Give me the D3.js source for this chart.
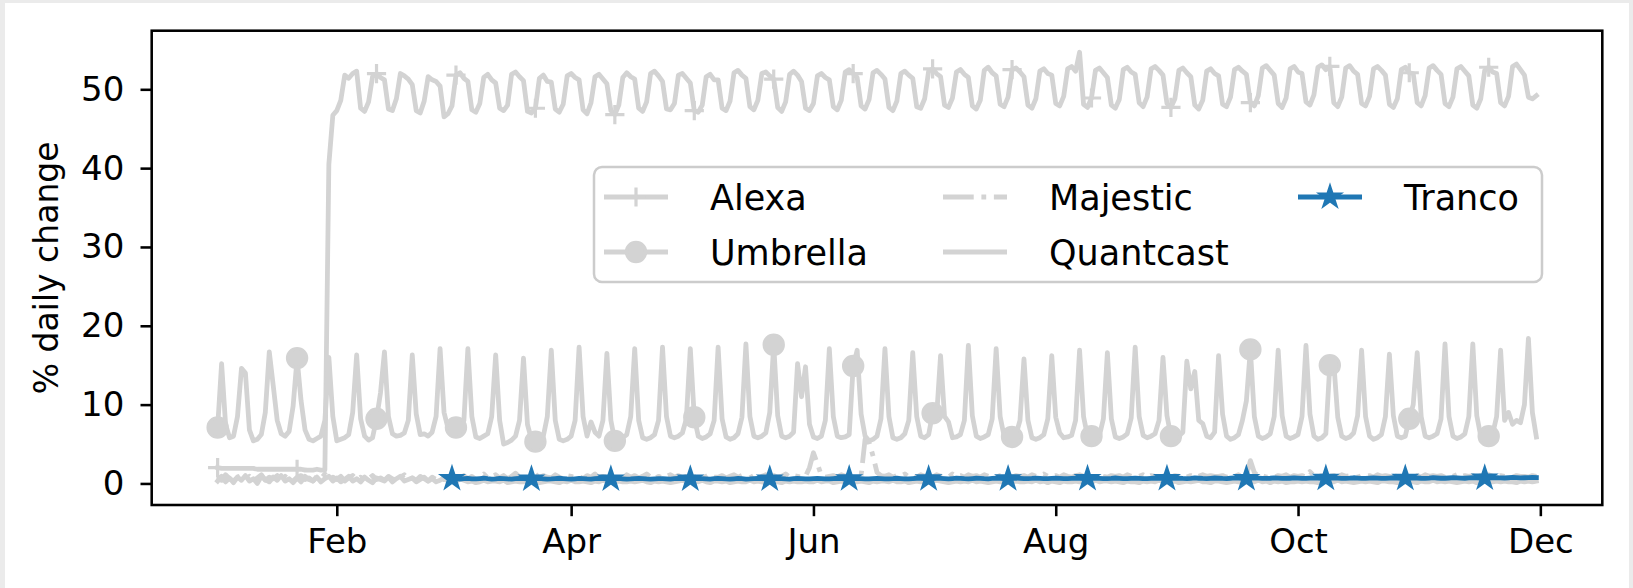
<!DOCTYPE html>
<html>
<head>
<meta charset="utf-8">
<script src="https://cdn.jsdelivr.net/npm/d3@7"></script>
<style>
  html, body { margin: 0; padding: 0; background: #ebebeb; }
  svg { display: block; font-family: "DejaVu Sans", sans-serif; }
</style>
</head>
<body>
<svg id="chart" width="1633" height="588"></svg>
<script>
// daily values, first value = 2018-01-02, last = 2018-11-30
const firstDay = "2018-01-02";
const trancoFirstDay = "2018-03-02";

const alexa = [
  2.0,1.9,1.9,1.9,1.9,1.9,1.9, 1.9,1.9,1.9,1.8,1.8,1.8,1.8, 1.8,1.8,1.8,1.8,1.8,1.8,1.8,
  1.8,1.7,1.7,1.7,1.8,1.7,1.7, 40.5,46.7,47.3,48.6,51.8,51.4,52.0, 52.3,47.6,47.2,48.4,51.6,52.0,51.5,
  51.2,47.5,47.3,48.8,52.0,51.7,51.3, 50.6,47.3,47.0,48.5,51.6,51.2,51.0, 50.4,46.5,46.9,47.9,51.8,52.1,51.4,
  51.0,47.4,47.1,48.2,51.5,51.9,51.2, 50.8,47.6,47.3,48.0,51.9,52.2,51.6, 51.1,47.2,47.0,47.6,51.4,51.8,51.0,
  50.9,47.5,47.1,48.1,51.7,52.0,51.5, 51.2,47.4,46.9,48.3,51.6,51.9,51.3, 50.7,47.3,46.8,48.0,51.5,52.1,51.6,
  51.3,47.6,47.2,48.4,52.0,52.3,51.7, 51.0,47.5,47.4,48.2,51.8,52.0,51.4, 50.8,47.3,47.1,48.0,51.6,51.9,51.2,
  51.2,47.6,47.3,48.5,52.1,52.4,51.8, 51.4,47.8,47.4,48.6,52.0,52.2,51.7, 51.3,47.7,47.2,48.4,51.9,52.3,51.8,
  51.0,47.6,47.3,48.2,51.7,52.0,51.5, 51.2,47.8,47.4,48.6,52.2,52.5,52.0, 51.5,47.9,47.5,48.7,52.1,52.4,51.9,
  51.3,47.7,47.3,48.5,52.0,52.3,51.8, 51.4,47.8,47.6,48.8,52.3,52.6,52.0, 51.6,48.0,47.7,48.9,52.2,52.5,51.9,
  51.5,47.9,47.5,48.6,52.4,52.8,52.1, 51.7,48.1,47.8,49.0,52.5,52.7,52.2, 51.6,48.0,47.6,48.8,52.3,52.6,52.0,
  51.8,48.2,47.9,49.1,52.6,52.9,52.3, 54.7,48.1,47.7,48.9,52.4,52.7,52.1, 51.5,48.0,47.6,48.7,52.5,52.8,52.2,
  51.9,48.3,47.8,49.0,52.6,52.9,52.4, 51.8,48.2,47.7,48.8,52.4,52.7,52.1, 51.6,48.0,47.5,48.6,52.3,52.6,52.0,
  51.7,48.1,47.8,49.0,52.5,52.8,52.3, 51.9,48.3,47.9,49.2,52.7,53.0,52.4, 51.8,48.2,47.7,48.9,52.6,52.9,52.2,
  52.0,48.4,48.0,49.3,52.8,53.1,52.5, 52.9,48.3,47.8,49.0,52.7,53.0,52.3, 51.9,48.2,47.9,49.1,52.6,52.9,52.4,
  51.8,48.1,47.7,48.8,52.5,52.8,52.1, 52.0,48.3,47.9,49.2,52.7,53.0,52.4, 51.9,48.2,47.8,49.0,52.6,52.9,52.3,
  51.7,48.0,47.6,48.8,52.4,52.8,52.2, 52.0,48.3,47.9,49.1,52.9,53.2,52.5, 51.8,49.0,48.8,49.2
];

const umbrella = [
  7.1,15.2,7.5,5.8,6.0,8.5,14.6, 14.0,6.8,5.4,5.6,6.2,9.0,16.7, 12.4,8.0,6.3,6.0,6.6,9.8,15.9,
  10.5,6.8,5.6,5.4,5.7,6.0,8.0, 16.0,8.5,5.4,5.6,5.8,6.2,9.0, 16.3,8.2,6.0,5.5,5.8,8.2,11.5,
  16.7,8.5,6.3,6.0,6.1,6.4,8.0, 16.3,8.8,6.2,6.3,6.0,6.5,8.5, 17.1,9.0,7.0,6.5,7.1,6.8,8.0,
  17.1,8.5,5.9,5.7,6.0,6.3,8.5, 16.3,8.0,5.0,5.2,5.5,6.0,8.0, 15.9,7.5,5.6,5.3,5.5,6.0,8.5,
  16.9,8.0,5.6,5.4,5.6,6.0,8.0, 17.3,8.5,6.0,7.8,6.5,6.0,8.0, 16.5,8.0,5.4,5.6,5.8,6.2,8.5,
  17.1,8.0,5.8,5.6,5.8,6.2,8.0, 17.3,8.5,6.0,5.8,6.0,6.4,8.2, 17.1,8.4,6.0,5.7,5.9,6.3,8.0,
  17.3,8.2,5.9,5.6,5.8,6.3,8.4, 17.7,8.5,6.0,5.8,6.0,6.4,9.0, 17.6,8.6,6.0,5.8,6.0,6.5,15.2,
  11.0,14.8,7.5,5.9,5.7,6.0,8.0, 17.1,8.5,6.0,5.8,5.9,6.2,14.9, 16.9,8.8,6.0,5.4,5.6,6.0,8.2,
  17.1,8.5,5.8,5.6,5.8,6.3,8.0, 16.6,8.5,6.0,5.8,6.2,8.9,8.4, 16.2,8.5,7.8,5.8,5.9,6.2,8.0,
  17.5,8.6,6.0,5.7,5.9,6.2,8.2, 17.1,8.5,6.0,5.6,5.9,6.2,8.0, 15.8,8.0,5.8,5.6,5.8,6.2,8.2,
  16.2,8.4,6.4,5.8,5.9,6.1,8.0, 16.9,8.5,6.0,6.0,5.8,6.1,8.2, 16.6,8.2,5.9,5.7,5.9,6.3,8.3,
  17.3,8.5,6.1,5.8,6.0,6.3,8.0, 16.0,8.6,6.0,5.7,6.0,6.5,15.5, 12.0,14.2,8.0,7.6,6.0,5.8,6.5,
  16.2,8.8,6.0,5.6,5.8,6.2,8.0, 10.5,17.0,8.5,6.0,5.7,5.9,6.3, 8.5,16.9,8.6,6.0,5.7,5.9,6.2,
  8.5,17.5,8.8,6.0,5.6,5.8,6.3, 15.0,15.3,8.4,6.0,5.7,5.9,6.4, 8.6,16.9,8.5,6.0,5.6,5.8,6.2,
  8.5,16.4,8.6,6.0,5.8,6.0,8.2, 10.0,16.6,8.5,6.0,5.8,6.0,6.3, 8.2,17.7,8.5,6.0,5.7,5.9,6.3,
  8.5,17.7,8.6,6.0,5.8,6.0,6.3, 8.5,16.9,8.0,9.0,7.5,8.0,7.7, 10.0,18.4,9.0,5.9
];

const majestic = [
  0.9,0.4,1.1,0.6,0.3,0.8,1.0, 0.5,0.9,0.3,0.7,1.1,0.4,0.8, 0.6,1.0,0.4,0.9,0.5,0.3,0.8,
  1.0,0.5,0.7,0.3,0.9,0.6,1.2, 0.4,0.8,0.5,0.9,0.3,0.7,1.0, 0.5,0.8,0.4,0.6,1.0,0.5,0.7,
  0.4,0.9,0.6,0.3,0.8,1.1,0.5, 0.7,0.4,0.9,0.6,0.3,0.8,0.5, 0.9,0.5,0.7,0.4,0.8,0.6,1.0,
  0.6,0.9,0.5,0.8,1.2,0.7,0.9, 1.1,0.7,1.0,0.6,0.9,1.3,0.8, 1.0,0.6,0.9,1.2,0.7,1.0,0.8,
  0.7,1.1,0.8,0.6,1.0,0.9,0.7, 0.9,0.6,1.0,0.8,1.2,0.7,0.9, 0.8,1.0,0.7,0.9,0.6,1.1,0.8,
  1.0,0.7,0.9,1.2,0.8,0.6,0.9, 0.7,0.9,1.1,0.8,1.0,0.7,0.9, 0.9,0.8,1.0,0.7,0.9,1.2,0.8,
  0.8,1.0,0.7,0.9,1.1,0.8,1.0, 0.9,0.7,1.0,0.8,0.9,1.1,0.8, 1.0,0.8,0.9,1.2,0.8,1.0,0.9,
  0.8,0.9,2.0,3.9,2.5,1.0,0.8, 0.9,1.0,0.8,1.1,0.9,1.0,0.8, 0.9,1.0,5.6,5.2,3.5,1.4,1.0,
  0.9,1.1,0.8,1.0,0.9,1.2,0.8, 1.0,0.8,1.1,0.9,1.0,0.8,1.1, 0.9,1.0,0.8,1.2,0.9,1.0,0.8,
  1.1,0.9,1.0,0.8,1.1,0.9,1.0, 0.8,1.0,0.9,1.1,0.8,1.0,0.9, 1.0,0.8,1.1,0.9,1.0,1.2,0.9,
  0.9,1.0,0.8,1.1,0.9,0.8,1.0, 1.1,0.9,1.0,0.8,0.9,1.1,0.9, 0.8,1.0,0.9,1.0,0.8,1.1,0.9,
  1.0,0.9,1.1,0.8,1.0,0.9,0.8, 0.9,1.1,0.8,1.0,0.9,1.0,0.8, 1.0,0.8,0.9,1.1,0.9,1.0,0.9,
  0.9,1.0,0.8,1.0,0.9,1.1,0.8, 1.0,2.9,1.4,0.9,1.0,0.8,0.9, 0.8,1.0,0.9,1.1,0.8,1.0,0.9,
  1.0,0.8,1.5,1.0,0.9,1.0,0.8, 0.9,1.0,0.8,1.1,0.9,1.0,0.9, 0.8,1.0,0.9,1.0,0.8,1.1,0.9,
  1.0,0.9,0.8,1.0,0.9,1.1,0.8, 0.9,1.0,0.8,1.1,0.9,1.0,0.9, 1.0,0.8,1.0,0.9,1.1,0.8,1.0,
  0.9,1.0,0.8,1.0,0.9,1.1,0.9, 0.8,1.0,0.9,1.1,0.8,1.0,0.9, 0.9,0.8,1.0,0.9
];

const quantcast = [
  0.3,0.9,0.2,0.7,0.1,0.8,0.4, 1.0,0.3,0.6,0.0,0.9,0.5,0.2, 0.8,0.4,1.0,0.3,0.6,0.1,0.7,
  0.2,0.9,0.5,0.3,0.8,0.2,0.6, 0.9,0.3,0.7,0.2,0.5,0.9,0.3, 0.6,0.2,0.8,0.4,0.1,0.7,0.5,
  0.3,0.8,0.2,0.6,0.9,0.3,0.5, 0.7,0.2,0.5,0.8,0.3,0.6,0.2, 0.4,0.7,0.3,0.5,0.2,0.6,0.4,
  0.2,0.3,0.1,0.2,0.4,0.2,0.3, 0.3,0.2,0.4,0.1,0.2,0.3,0.2, 0.2,0.4,0.2,0.3,0.1,0.2,0.3,
  0.3,0.2,0.1,0.3,0.2,0.4,0.2, 0.2,0.3,0.2,0.1,0.3,0.2,0.4, 0.3,0.1,0.2,0.3,0.2,0.2,0.3,
  0.2,0.3,0.4,0.2,0.1,0.3,0.2, 0.3,0.2,0.1,0.2,0.3,0.4,0.2, 0.2,0.3,0.2,0.4,0.2,0.1,0.3,
  0.3,0.2,0.3,0.1,0.2,0.3,0.2, 0.2,0.4,0.2,0.3,0.2,0.1,0.3, 0.3,0.2,0.1,0.3,0.2,0.3,0.2,
  0.2,0.3,0.2,0.2,0.4,0.2,0.3, 0.3,0.1,0.2,0.3,0.2,0.4,0.2, 0.2,0.3,0.2,0.1,0.3,0.2,0.3,
  0.3,0.2,0.4,0.2,0.2,0.3,0.1, 0.2,0.3,0.2,0.3,0.1,0.2,0.4, 0.3,0.2,0.1,0.2,0.3,0.2,0.3,
  0.2,0.4,0.2,0.3,0.2,0.1,0.2, 0.3,0.2,0.3,0.1,0.2,0.3,0.2, 0.2,0.3,0.2,0.4,0.2,0.3,0.1,
  0.3,0.2,0.1,0.3,0.2,0.2,0.3, 0.2,0.3,0.2,0.1,0.4,0.2,0.3, 0.3,0.2,0.3,0.2,0.1,0.3,0.2,
  0.2,0.1,0.3,0.2,0.3,0.2,0.4, 0.3,0.2,0.2,0.3,0.1,0.2,0.3, 0.2,0.3,0.4,0.2,0.2,0.1,0.3,
  0.3,0.2,0.1,0.2,0.3,0.2,0.2, 0.2,0.3,0.2,0.4,0.2,0.3,0.1, 0.3,0.2,0.3,0.1,0.2,0.2,0.3,
  0.2,0.3,0.2,0.2,0.1,0.3,0.2, 0.3,0.2,0.4,0.2,0.3,0.2,0.1, 0.2,0.3,0.2,0.3,0.2,0.1,0.3,
  0.3,0.2,0.2,0.1,0.3,0.2,0.3, 0.2,0.1,0.3,0.2,0.2,0.4,0.2, 0.3,0.2,0.3,0.2,0.1,0.2,0.3,
  0.2,0.3,0.1,0.2,0.3,0.2,0.2, 0.3,0.2,0.3,0.2,0.2,0.1,0.3, 0.2,0.3,0.2,0.3
];

const tranco = [
  0.62,0.58,0.55,0.60,0.64,0.59,0.57,0.61,0.66,0.60,
  0.56,0.58,0.63,0.61,0.57,0.55,0.60,0.65,0.62,0.58,
  0.57,0.60,0.63,0.59,0.56,0.58,0.62,0.66,0.61,0.57,
  0.55,0.59,0.64,0.60,0.57,0.56,0.61,0.65,0.60,0.58,
  0.56,0.60,0.63,0.59,0.55,0.57,0.62,0.64,0.60,0.57,
  0.56,0.59,0.62,0.60,0.57,0.55,0.60,0.64,0.61,0.58,
  0.57,0.60,0.65,0.61,0.58,0.56,0.60,0.63,0.60,0.57,
  0.56,0.59,0.63,0.60,0.56,0.57,0.61,0.65,0.62,0.58,
  0.57,0.60,0.64,0.61,0.57,0.56,0.60,0.64,0.61,0.58,
  0.58,0.61,0.65,0.62,0.59,0.57,0.61,0.66,0.62,0.59,
  0.58,0.60,0.64,0.61,0.58,0.57,0.61,0.65,0.62,0.59,
  0.58,0.61,0.66,0.62,0.59,0.58,0.62,0.66,0.63,0.60,
  0.59,0.62,0.66,0.63,0.60,0.58,0.62,0.67,0.63,0.60,
  0.59,0.62,0.66,0.63,0.60,0.59,0.63,0.67,0.64,0.61,
  0.60,0.63,0.67,0.64,0.61,0.60,0.63,0.68,0.64,0.61,
  0.60,0.63,0.67,0.64,0.61,0.60,0.64,0.68,0.65,0.62,
  0.61,0.64,0.68,0.65,0.62,0.61,0.64,0.69,0.65,0.62,
  0.61,0.64,0.68,0.65,0.62,0.61,0.65,0.69,0.66,0.63,
  0.62,0.65,0.69,0.66,0.63,0.62,0.65,0.70,0.66,0.63,
  0.62,0.65,0.69,0.66,0.63,0.62,0.66,0.70,0.67,0.64,
  0.63,0.66,0.70,0.67,0.64,0.63,0.66,0.71,0.67,0.64,
  0.63,0.66,0.70,0.67,0.64,0.63,0.67,0.71,0.68,0.65,
  0.64,0.67,0.71,0.68,0.65,0.64,0.67,0.72,0.68,0.65,
  0.64,0.67,0.71,0.68,0.65,0.64,0.68,0.72,0.69,0.66,
  0.65,0.68,0.72,0.69,0.66,0.65,0.68,0.73,0.69,0.66,
  0.66,0.69,0.73,0.70,0.67,0.66,0.70,0.74,0.71,0.68,
  0.68,0.71,0.75,0.72,0.70,0.69,0.72,0.76,0.73,0.71,
  0.72,0.74,0.76,0.75
];

const seriesNames = ["Alexa", "Umbrella", "Majestic", "Quantcast", "Tranco"];
const yTicks = [0, 10, 20, 30, 40, 50];
const xTickDates = ["2018-02-01", "2018-04-01", "2018-06-01", "2018-08-01", "2018-10-01", "2018-12-01"];
const xTickLabels = ["Feb", "Apr", "Jun", "Aug", "Oct", "Dec"];
const yLabel = "% daily change";

// --- page / axes geometry ---
const W = 1633, H = 588;
const pt = 3.2;                     // px per point
const box = { left: 151.7, right: 1602.3, top: 30.7, bottom: 505 };
const gray = "#d3d3d3", blue = "#1f77b4";
const tickFont = 34, legendFont = 35, labelFont = 33;

const svg = d3.select("#chart");
svg.append("rect").attr("x", 5).attr("y", 3).attr("width", W - 9).attr("height", H - 3).attr("fill", "#ffffff");

const parse = d3.utcParse("%Y-%m-%d");
const toPoints = (values, s) => values.map((v, i) => ({ date: d3.utcDay.offset(parse(s), i), value: v, i }));

const series = [
  { name: seriesNames[0], pts: toPoints(alexa, firstDay), color: gray, marker: "plus" },
  { name: seriesNames[1], pts: toPoints(umbrella, firstDay), color: gray, marker: "circle" },
  { name: seriesNames[2], pts: toPoints(majestic, firstDay), color: gray, dash: [6.4, 1.6, 1.0, 1.6] },
  { name: seriesNames[3], pts: toPoints(quantcast, firstDay), color: gray },
  { name: seriesNames[4], pts: toPoints(tranco, trancoFirstDay), color: blue, marker: "star" }
];

// matplotlib-like autoscale with 5% margins
const allPts = series.flatMap(s => s.pts);
const t0 = d3.min(allPts, d => d.date), t1 = d3.max(allPts, d => d.date);
const tPad = (t1 - t0) * 0.05;
const v0 = d3.min(allPts, d => d.value), v1 = d3.max(allPts, d => d.value);
const vPad = (v1 - v0) * 0.05;

const x = d3.scaleUtc().domain([new Date(+t0 - tPad), new Date(+t1 + tPad)]).range([box.left, box.right]);
const y = d3.scaleLinear().domain([v0 - vPad, v1 + vPad]).range([box.bottom, box.top]);

const lw = 1.5 * pt;
const ms = 6 * pt / 2;              // marker radius
const mew = 1 * pt;

function starPath(R) {
  const r = R * 0.381966;
  const p = d3.path();
  for (let k = 0; k < 10; k++) {
    const a = -Math.PI / 2 + k * Math.PI / 5;
    const rr = k % 2 ? r : R;
    const px = rr * Math.cos(a), py = rr * Math.sin(a);
    k ? p.lineTo(px, py) : p.moveTo(px, py);
  }
  p.closePath();
  return p.toString();
}

function drawMarker(g, kind, color, cx, cy) {
  if (kind === "plus") {
    g.append("path").attr("d", `M${cx - ms},${cy}H${cx + ms}M${cx},${cy - ms}V${cy + ms}`)
      .attr("stroke", color).attr("stroke-width", mew).attr("fill", "none");
  } else if (kind === "circle") {
    g.append("circle").attr("cx", cx).attr("cy", cy).attr("r", ms)
      .attr("fill", color).attr("stroke", color).attr("stroke-width", mew);
  } else if (kind === "star") {
    g.append("path").attr("d", starPath(ms)).attr("transform", `translate(${cx},${cy})`)
      .attr("fill", color).attr("stroke", color).attr("stroke-width", mew).attr("stroke-linejoin", "miter");
  }
}

svg.append("defs").append("clipPath").attr("id", "clip")
  .append("rect").attr("x", box.left).attr("y", box.top)
  .attr("width", box.right - box.left).attr("height", box.bottom - box.top);

const plot = svg.append("g").attr("clip-path", "url(#clip)");
const line = d3.line().x(d => x(d.date)).y(d => y(d.value));

series.forEach(s => {
  const g = plot.append("g");
  g.append("path").datum(s.pts).attr("d", line)
    .attr("fill", "none").attr("stroke", s.color).attr("stroke-width", lw)
    .attr("stroke-linejoin", "round")
    .attr("stroke-linecap", s.dash ? "butt" : "square")
    .attr("stroke-dasharray", s.dash ? s.dash.map(v => v * lw).join(",") : null);
  if (s.marker) {
    s.pts.filter(d => d.i % 20 === 0)
      .forEach(d => drawMarker(g, s.marker, s.color, x(d.date), y(d.value)));
  }
});

// --- axes ---
const axisX = d3.axisBottom(x)
  .tickValues(xTickDates.map(parse))
  .tickFormat((d, i) => xTickLabels[i])
  .tickSize(3.5 * pt).tickPadding(3.5 * pt);
const axisY = d3.axisLeft(y)
  .tickValues(yTicks)
  .tickSize(3.5 * pt).tickPadding(3.5 * pt + 5);

const gx = svg.append("g").attr("transform", `translate(0,${box.bottom})`).call(axisX);
const gy = svg.append("g").attr("transform", `translate(${box.left},0)`).call(axisY);
[gx, gy].forEach(g => {
  g.select(".domain").remove();
  g.selectAll(".tick line").attr("stroke", "#000").attr("stroke-width", 0.8 * pt);
  g.selectAll(".tick text").attr("fill", "#000").attr("font-family", "DejaVu Sans")
    .attr("font-size", tickFont);
});
gx.selectAll(".tick text").attr("dy", "0.76em");

// spines
svg.append("rect").attr("x", box.left).attr("y", box.top)
  .attr("width", box.right - box.left).attr("height", box.bottom - box.top)
  .attr("fill", "none").attr("stroke", "#000").attr("stroke-width", 0.8 * pt);

svg.append("text")
  .attr("transform", `translate(46,${(box.top + box.bottom) / 2}) rotate(-90)`)
  .attr("text-anchor", "middle").attr("dy", "0.35em")
  .attr("font-size", labelFont).text(yLabel);

// --- legend ---
const leg = svg.append("g");
leg.append("rect").attr("x", 594).attr("y", 167).attr("width", 948).attr("height", 115)
  .attr("rx", 8).attr("fill", "#ffffff").attr("fill-opacity", 0.8)
  .attr("stroke", "#cccccc").attr("stroke-width", 2.5);

const colX = [604, 943, 1298];
const rowY = [197, 252];
const handleLen = 64;
series.forEach((s, k) => {
  const cx = colX[Math.floor(k / 2)], cy = rowY[k % 2];
  leg.append("line").attr("x1", cx).attr("x2", cx + handleLen).attr("y1", cy).attr("y2", cy)
    .attr("stroke", s.color).attr("stroke-width", lw)
    .attr("stroke-dasharray", s.dash ? s.dash.map(v => v * lw).join(",") : null);
  if (s.marker) drawMarker(leg, s.marker, s.color, cx + handleLen / 2, cy);
  leg.append("text").attr("x", cx + handleLen + 42).attr("y", cy).attr("dy", "0.36em")
    .attr("font-size", legendFont).attr("fill", "#000").text(s.name);
});
</script>
</body>
</html>
